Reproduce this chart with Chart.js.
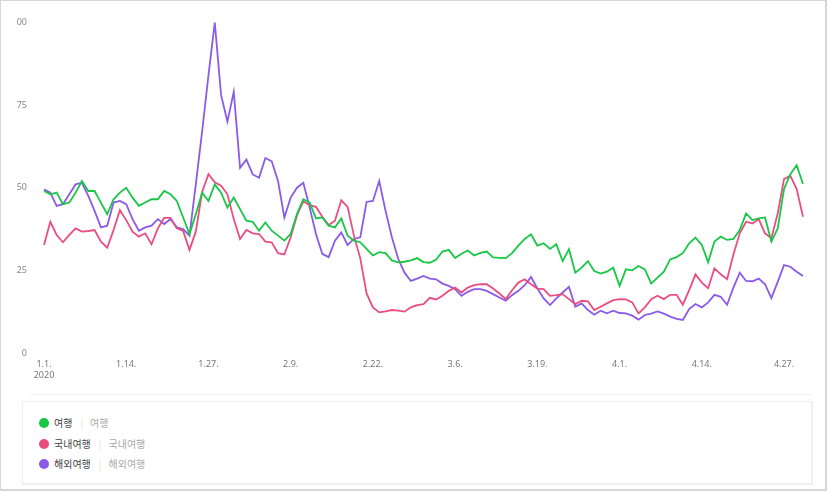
<!DOCTYPE html>
<html>
<head>
<meta charset="utf-8">
<script src="https://cdn.jsdelivr.net/npm/chart.js@4"></script>
<style>
  html, body { margin: 0; padding: 0; background: #fff; }
  body { width: 827px; height: 491px; position: relative; overflow: hidden; font-family: "Noto Sans CJK KR", "Noto Sans", sans-serif; }
  #frame { position: absolute; left: 0; top: 0; width: 827px; height: 491px; box-sizing: border-box; border: 2px solid #d6d6d6; border-top-width: 1px; border-left-width: 1px; pointer-events: none; }
  #wrap { position: absolute; left: 0; top: 0; width: 827px; height: 390px; }
  #dots { position: absolute; left: 30px; top: 394px; width: 781px; border-top: 1px dotted #e6e6e6; }
  #legend { position: absolute; left: 22px; top: 401px; width: 791px; height: 84px; box-sizing: border-box; border: 1px solid #efefef; border-right-width: 2px; border-bottom-width: 2px; }
  .item { position: absolute; left: 16px; height: 14px; line-height: 14px; font-size: 10px; color: #444; white-space: nowrap; }
  .dot { display: inline-block; width: 10px; height: 10px; border-radius: 50%; vertical-align: -1px; margin-right: 5px; }
  .sep { color: #ddd; margin: 0 7px 0 8px; }
  .sub { color: #aaa; }
</style>
</head>
<body>
<div id="wrap"><canvas id="c" width="827" height="390"></canvas></div>
<div id="dots"></div>
<div id="legend"></div>
<div id="frame"></div>
<script>
// ---- data ----
const seriesNames = ['여행', '국내여행', '해외여행'];
const seriesColors = ['#17c745', '#ea4d80', '#8a5ae8'];
const yTickLabels = ['0', '25', '50', '75', '00'];
const monthLengths = [31, 29, 31, 30]; // Jan..Apr 2020
const categories = [];
monthLengths.forEach((n, m) => { for (let d = 1; d <= n; d++) categories.push((m + 1) + '.' + d + '.'); });

const travel = [
  49, 48, 48.5, 45, 45.5, 48.5, 52, 49, 49, 45.5,
  42, 46.5, 48.5, 50, 47, 44.5, 45.5, 46.5, 46.5, 49,
  48, 46, 41, 36, 42, 48.5, 46, 51, 48.5, 44,
  47, 43.5, 40, 39.7, 37, 39.5, 37, 35.5, 34, 36,
  42, 46.5, 45.5, 40.7, 41, 38.5, 38, 40.7, 35.5, 34,
  33.5, 31.5, 29.5, 30.5, 30.2, 28, 27.4, 27.6, 28, 28.7,
  27.5, 27.3, 28.3, 30.7, 31.2, 28.7, 30, 31, 29.5, 30.3,
  30.7, 28.9, 28.8, 28.7, 30.2, 32.5, 34.5, 35.9, 32.5, 33.2,
  31.5, 32.9, 27.8, 31.4, 24.3, 25.8, 27.8, 24.8, 24, 24.6,
  25.8, 20.3, 25.3, 25, 26.3, 25.3, 21, 22.8, 24.6, 28.3,
  29, 30.2, 33.2, 34.9, 32.7, 27.5, 33.7, 35.2, 34.2, 34.5,
  37.2, 42.2, 40.2, 40.7, 41, 33.7, 37.7, 49.6, 54.1, 56.8,
  51.1
];
const domestic = [
  32.7, 39.7, 35.7, 33.5, 35.7, 37.7, 36.7, 36.9, 37.2, 33.7,
  31.9, 37.2, 43.2, 40.2, 36.7, 35.2, 36.2, 32.9, 37.7, 40.9,
  40.9, 37.7, 36.9, 31.2, 36.7, 48.7, 54.1, 51.6, 50.6, 48,
  40.5, 34.5, 37.2, 36.2, 36, 33.7, 33.5, 30.2, 29.8, 35,
  41.7, 45.9, 44.7, 44.2, 41.2, 38.7, 40, 46.2, 44.2, 35.5,
  28.7, 18, 13.8, 12.3, 12.6, 13, 12.8, 12.5, 13.8, 14.5,
  14.8, 16.7, 16.2, 17.3, 18.8, 19.8, 18.3, 19.8, 20.5, 20.8,
  20.8, 19.5, 18, 16.3, 19, 21.3, 22.3, 20.8, 19.5, 19.3,
  17.3, 17.5, 17.8, 16.3, 14.8, 15.8, 15.6, 13, 14, 15,
  16, 16.3, 16.2, 15.3, 12, 13.8, 16.3, 17.3, 16.3, 17.6,
  17.6, 14.6, 19, 23.8, 21.3, 19.6, 25.6, 23.8, 22.3, 29.8,
  36.2, 39.7, 39.2, 40.5, 36.2, 34.7, 42.2, 52.6, 53.6, 49.6,
  41.2
];
const overseas = [
  49.5, 48.5, 44.5, 45, 48, 51, 51.5, 47.5, 43, 38,
  38.5, 45.5, 46, 45, 40.5, 37, 38, 38.5, 40.5, 39,
  40.5, 38, 37.5, 35.5, 51, 67, 84, 100, 78, 70,
  79, 56, 58.5, 54, 53, 59, 58, 52, 41, 47,
  50, 51.5, 44, 36, 30, 29, 34, 36.5, 32.7, 34.5,
  35, 45.7, 46, 52, 43, 35, 28.5, 24.3, 21.8, 22.5,
  23.3, 22.5, 22.3, 21, 20.3, 19.3, 17.3, 18.5, 19.3, 19.3,
  18.8, 17.8, 16.8, 15.8, 17.5, 18.8, 20.5, 23, 19.5, 16.5,
  14.5, 16.5, 18.3, 20, 14, 15, 13, 11.6, 12.8, 12,
  12.8, 12.1, 12, 11.3, 10.1, 11.5, 11.9, 12.6, 11.9, 11,
  10.3, 10, 13.3, 14.8, 13.8, 15.3, 17.6, 17, 14.6, 19.8,
  24.3, 21.8, 21.7, 22.5, 20.8, 16.6, 21.5, 26.6, 26.1, 24.6,
  23.3
];
const seriesValues = [travel, domestic, overseas];

// ---- legend (HTML) ----
const legendEl = document.getElementById('legend');
seriesNames.forEach((name, i) => {
  const row = document.createElement('div');
  row.className = 'item';
  row.style.top = (14 + i * 20.5) + 'px';
  row.innerHTML = '<span class="dot" style="background:' + seriesColors[i] + '"></span>' +
    '<span>' + name + '</span><span class="sep">|</span><span class="sub">' + name + '</span>';
  legendEl.appendChild(row);
});

// ---- chart ----
new Chart(document.getElementById('c'), {
  type: 'line',
  data: {
    labels: categories,
    datasets: seriesNames.map((name, i) => ({
      label: name,
      data: seriesValues[i],
      borderColor: seriesColors[i],
      backgroundColor: seriesColors[i],
      borderWidth: 1.8,
      pointRadius: 0,
      tension: 0,
      fill: false
    }))
  },
  options: {
    responsive: false,
    animation: false,
    layout: { padding: { top: 18, right: 24, left: 0, bottom: 0 } },
    plugins: { legend: { display: false }, tooltip: { enabled: false } },
    scales: {
      x: {
        offset: false,
        grid: { display: false, drawTicks: false },
        border: { display: false },
        afterFit: s => { s.height = 37; },
        ticks: {
          autoSkip: false,
          maxRotation: 0,
          padding: 6,
          color: '#777',
          font: { family: 'Noto Sans', size: 9 },
          callback: function (v, idx) {
            if (idx % 13 !== 0) return null;
            const lab = categories[idx];
            return idx === 0 ? [lab, '2020'] : lab;
          }
        }
      },
      y: {
        min: 0, max: 100,
        grid: { display: false, drawTicks: false },
        border: { display: false },
        afterFit: s => { s.width = 44; },
        afterBuildTicks: s => { s.ticks = [0, 25, 50, 75, 100].map(v => ({ value: v })); },
        ticks: {
          padding: 17,
          color: '#888',
          font: { family: 'Noto Sans', size: 9 },
          callback: function (v) { return yTickLabels[[0, 25, 50, 75, 100].indexOf(v)]; }
        }
      }
    }
  }
});
</script>
</body>
</html>
